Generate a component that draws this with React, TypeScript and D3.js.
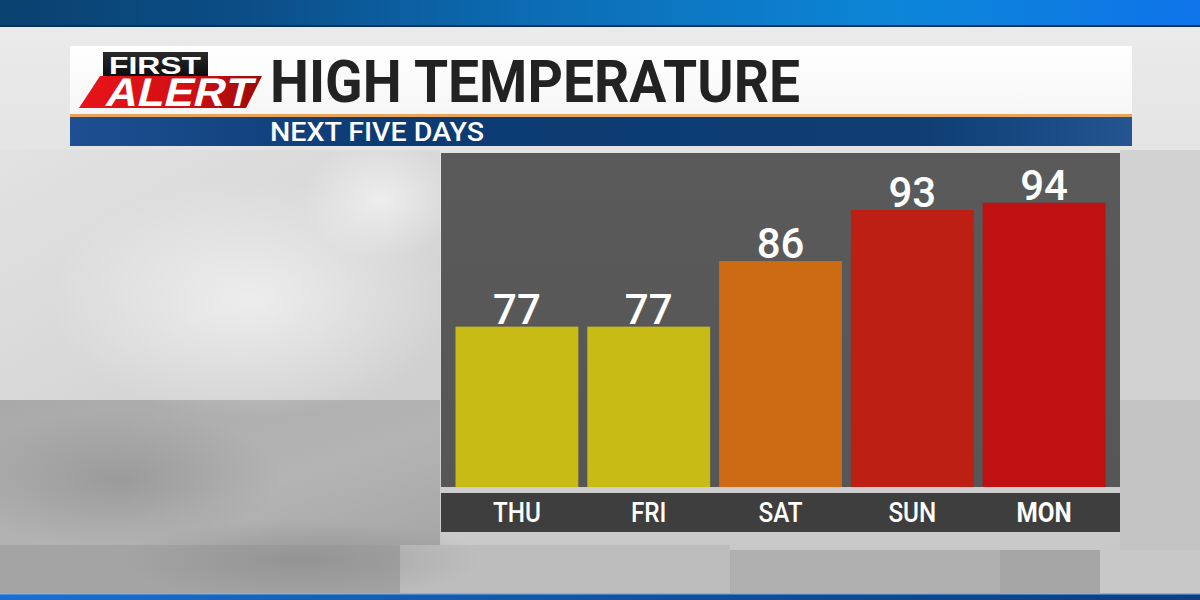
import React from "react";
import * as d3 from "d3";

const days = ["THU", "FRI", "SAT", "SUN", "MON"];
const highs = [77, 77, 86, 93, 94];
const barColors = ["#c9bb15", "#c9bb15", "#cd6a14", "#be1f14", "#bf1111"];
const titleText = "HIGH TEMPERATURE";
const subtitleText = "NEXT FIVE DAYS";

const W = 1200;
const H = 600;
const panel = { x0: 441, x1: 1120, y0: 153, y1: 487 };
const band = { y0: 493, y1: 532 };

export default function App() {
  const x = d3
    .scaleBand<string>()
    .domain(days)
    .range([panel.x0, panel.x1])
    .paddingInner(0.068)
    .paddingOuter(0.11);
  const y = d3.scaleLinear().domain([55, 100]).range([panel.y1, 159]);

  return (
    <svg
      width={W}
      height={H}
      style={{ position: "absolute", left: 0, top: 0, display: "block" }}
      fontFamily="Roboto, 'Noto Sans', sans-serif"
    >
      <defs>
        <linearGradient id="topbar" x1="0" x2="1" y1="0" y2="0">
          <stop offset="0" stopColor="#0a4270" />
          <stop offset="0.2" stopColor="#0b4d86" />
          <stop offset="0.45" stopColor="#0c6db5" />
          <stop offset="0.75" stopColor="#0c86d8" />
          <stop offset="1" stopColor="#0f74ea" />
        </linearGradient>
        <linearGradient id="botbar" x1="0" x2="1" y1="0" y2="0">
          <stop offset="0" stopColor="#1c6fd0" />
          <stop offset="0.6" stopColor="#0e4f9a" />
          <stop offset="1" stopColor="#0b3f80" />
        </linearGradient>
        <linearGradient id="bg" x1="0" x2="0" y1="0" y2="1">
          <stop offset="0" stopColor="#ececec" />
          <stop offset="0.5" stopColor="#dcdcdc" />
          <stop offset="1" stopColor="#c4c4c4" />
        </linearGradient>
        <linearGradient id="bgLeftLow" x1="0" x2="1" y1="0" y2="1">
          <stop offset="0" stopColor="#a9a9a9" />
          <stop offset="0.6" stopColor="#b4b4b4" />
          <stop offset="1" stopColor="#a6a6a6" />
        </linearGradient>
        <linearGradient id="bgLeftMid" x1="0" x2="1" y1="0" y2="1">
          <stop offset="0" stopColor="#e2e2e2" />
          <stop offset="1" stopColor="#cfcfcf" />
        </linearGradient>
        <radialGradient id="spot" cx="0.5" cy="0.5" r="0.5">
          <stop offset="0" stopColor="#ffffff" stopOpacity="0.55" />
          <stop offset="1" stopColor="#ffffff" stopOpacity="0" />
        </radialGradient>
        <radialGradient id="dark" cx="0.5" cy="0.5" r="0.5">
          <stop offset="0" stopColor="#808080" stopOpacity="0.45" />
          <stop offset="1" stopColor="#808080" stopOpacity="0" />
        </radialGradient>
        <linearGradient id="titlebox" x1="0" x2="0" y1="0" y2="1">
          <stop offset="0" stopColor="#ffffff" />
          <stop offset="1" stopColor="#f6f6f6" />
        </linearGradient>
        <linearGradient id="subbar" x1="0" x2="1" y1="0" y2="0">
          <stop offset="0" stopColor="#1d4f92" />
          <stop offset="0.3" stopColor="#0c3a72" />
          <stop offset="0.8" stopColor="#0f3d74" />
          <stop offset="1" stopColor="#245590" />
        </linearGradient>
        <linearGradient id="red" x1="0" x2="1" y1="0" y2="0">
          <stop offset="0" stopColor="#e8141a" />
          <stop offset="0.6" stopColor="#d10f12" />
          <stop offset="1" stopColor="#9a0a0a" />
        </linearGradient>
        <linearGradient id="blackbox" x1="0" x2="0" y1="0" y2="1">
          <stop offset="0" stopColor="#2a2a2a" />
          <stop offset="1" stopColor="#0d0d0d" />
        </linearGradient>
        <linearGradient id="panelg" x1="0" x2="0" y1="0" y2="1">
          <stop offset="0" stopColor="#5a5a5a" />
          <stop offset="1" stopColor="#565656" />
        </linearGradient>
      </defs>

      {/* background */}
      <rect x={0} y={0} width={W} height={H} fill="url(#bg)" />
      <rect x={0} y={150} width={440} height={250} fill="url(#bgLeftMid)" />
      <rect x={0} y={400} width={440} height={145} fill="url(#bgLeftLow)" />
      <rect x={0} y={545} width={400} height={50} fill="#a4a4a4" />
      <rect x={400} y={545} width={330} height={50} fill="#bdbdbd" />
      <rect x={730} y={550} width={380} height={44} fill="#b0b0b0" />
      <rect x={1000} y={550} width={100} height={44} fill="#a6a6a6" />
      <rect x={1100} y={550} width={100} height={44} fill="#c8c8c8" />
      <rect x={1120} y={150} width={80} height={400} fill="#d2d2d2" />
      <rect x={1120} y={400} width={80} height={150} fill="#c4c4c4" />
      <ellipse cx={250} cy={300} rx={200} ry={120} fill="url(#spot)" />
      <ellipse cx={380} cy={200} rx={80} ry={60} fill="url(#spot)" />
      <ellipse cx={120} cy={480} rx={160} ry={70} fill="url(#dark)" />
      <ellipse cx={300} cy={560} rx={180} ry={40} fill="url(#dark)" />

      {/* top and bottom blue bars */}
      <rect x={0} y={0} width={W} height={26} fill="url(#topbar)" />
      <rect x={0} y={25} width={W} height={2} fill="#083260" />
      <rect x={0} y={593} width={W} height={7} fill="url(#botbar)" />
      <rect x={0} y={593} width={W} height={1.5} fill="#7fb0ea" />

      {/* title box */}
      <rect x={70} y={46} width={1062} height={70} fill="url(#titlebox)" />
      <rect x={70} y={114} width={1062} height={3} fill="#e8a45a" />
      <rect x={70} y={117} width={1062} height={29} fill="url(#subbar)" />

      {/* logo */}
      <rect x={103} y={52} width={105} height={24} fill="url(#blackbox)" />
      <text
        x={155}
        y={73.5}
        textAnchor="middle"
        fill="#ffffff"
        fontSize={23}
        fontWeight={700}
        fontFamily="'Liberation Sans', Arial, sans-serif"
        textLength={92}
        lengthAdjust="spacingAndGlyphs"
      >
        FIRST
      </text>
      <polygon points="100,76 262,76 246,108 79,108" fill="url(#red)" />
      <text
        transform="translate(96,106) skewX(-14)"
        x={8}
        y={0}
        fill="#ffffff"
        fontSize={40}
        fontWeight={700}
        fontFamily="'Liberation Sans', Arial, sans-serif"
        textLength={146}
        lengthAdjust="spacingAndGlyphs"
      >
        ALERT
      </text>

      {/* title */}
      <text
        x={270}
        y={102}
        fill="#222222"
        fontSize={59}
        fontWeight={700}
        textLength={530}
        lengthAdjust="spacingAndGlyphs"
      >
        {titleText}
      </text>
      <text
        x={270}
        y={141}
        fill="#ffffff"
        fontSize={25}
        fontWeight={500}
        textLength={214}
        lengthAdjust="spacingAndGlyphs"
      >
        {subtitleText}
      </text>

      {/* chart panel */}
      <rect
        x={panel.x0}
        y={panel.y0}
        width={panel.x1 - panel.x0}
        height={panel.y1 - panel.y0}
        fill="url(#panelg)"
      />
      <rect
        x={panel.x0}
        y={band.y0}
        width={panel.x1 - panel.x0}
        height={band.y1 - band.y0}
        fill="#3e3e3e"
      />

      {days.map((d, i) => {
        const bx = x(d) as number;
        const bw = x.bandwidth();
        const top = y(highs[i]);
        const cx = bx + bw / 2;
        return (
          <g key={d}>
            <rect
              x={bx}
              y={top}
              width={bw}
              height={panel.y1 - top}
              fill={barColors[i]}
            />
            <text
              x={cx}
              y={top - 3}
              textAnchor="middle"
              fill="#ffffff"
              fontSize={42}
              fontWeight={500}
            >
              {highs[i]}
            </text>
            <text
              transform={`translate(${cx},${band.y0 + 29}) scale(0.9,1)`}
              textAnchor="middle"
              fill="#ffffff"
              fontSize={27}
              fontWeight={i === 4 ? 700 : 500}
            >
              {d}
            </text>
          </g>
        );
      })}
    </svg>
  );
}
